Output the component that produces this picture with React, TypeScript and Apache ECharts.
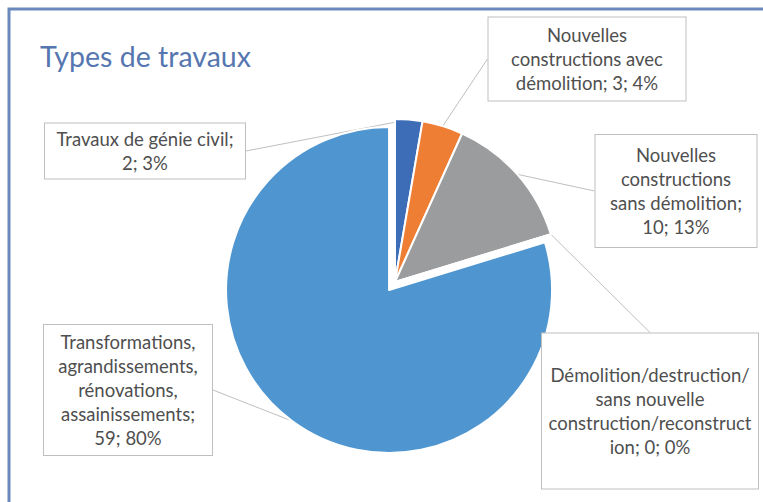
import React, { useEffect, useRef } from 'react';
import * as echarts from 'echarts';

// ---- data ----
const categories = [
  'Travaux de génie civil',
  'Nouvelles constructions avec démolition',
  'Nouvelles constructions sans démolition',
  'Démolition/destruction/ sans nouvelle construction/reconstruction',
  'Transformations, agrandissements, rénovations, assainissements',
];
const values = [2, 3, 10, 0, 59];
// wrapped label names as they appear in the chart
const wrappedNames = [
  'Travaux de génie civil',
  'Nouvelles\nconstructions avec\ndémolition',
  'Nouvelles\nconstructions\nsans démolition',
  'Démolition/destruction/\nsans nouvelle\nconstruction/reconstruct\nion',
  'Transformations,\nagrandissements,\nrénovations,\nassainissements',
];
const valueOnNewLine = [true, false, true, false, true];
const explodedIndex = 4;

// ---- styles / layout ----
const colors = ['#3C6DB6', '#EE7E33', '#9A9C9E', '#FFC000', '#4F96D1'];
const pieCenter: [number, number] = [395, 282];
const pieRadius = 163;
const explodeDistance = 10;
const labelCenters: [number, number][] = [
  [145, 151],
  [587, 59],
  [676, 191],
  [650, 411],
  [128, 390],
];
const labelWidths = [184, 179, 145, 202, 150];
const labelPaddings = [
  [4, 8, 3, 8],
  [5, 9, 6, 9],
  [8, 8, 8, 8],
  [33, 7, 26, 7],
  [5, 9, 5, 9],
];

export default function App() {
  const ref = useRef<HTMLDivElement>(null);
  useEffect(() => {
    if (!ref.current) return;
    const chart = echarts.init(ref.current, undefined, { renderer: 'svg' });

    const total = values.reduce((a, b) => a + b, 0);
    const before = values.slice(0, explodedIndex).reduce((a, b) => a + b, 0);
    const mid = ((before + values[explodedIndex] / 2) / total) * Math.PI * 2;
    const explodedCenter = [
      pieCenter[0] + explodeDistance * Math.sin(mid),
      pieCenter[1] - explodeDistance * Math.cos(mid),
    ];

    const makeData = (visible: (i: number) => boolean) =>
      categories.map((name, i) => {
        const vis = visible(i);
        return {
          name,
          value: values[i],
          itemStyle: vis
            ? { color: colors[i], borderColor: '#ffffff', borderWidth: 2 }
            : { color: 'rgba(0,0,0,0)', borderWidth: 0 },
          label: vis
            ? { show: true, width: labelWidths[i], padding: labelPaddings[i] }
            : { show: false },
          labelLine: { show: vis },
        };
      });

    const labelOpt = {
      show: true,
      position: 'outside',
      fontFamily: 'Lato',
      fontSize: 18.5,
      lineHeight: 24,
      color: '#4F4F4F',
      align: 'center',
      backgroundColor: '#ffffff',
      borderColor: '#BFBFBF',
      borderWidth: 1,
      overflow: 'none',
      formatter: (p: any) => {
        const i = p.dataIndex;
        return (
          wrappedNames[i] +
          ';' +
          (valueOnNewLine[i] ? '\n' : ' ') +
          p.value +
          '; ' +
          p.percent +
          '%'
        );
      },
    };
    const labelLineOpt = {
      show: true,
      length: 0,
      length2: 0,
      smooth: false,
      lineStyle: { color: '#BFBFBF', width: 1 },
    };
    const labelLayout = (params: any) => {
      const i = params.dataIndex;
      return {
        x: labelCenters[i][0],
        y: labelCenters[i][1],
        align: 'center',
        verticalAlign: 'middle',
      };
    };
    const common = {
      type: 'pie',
      radius: pieRadius,
      startAngle: 90,
      clockwise: true,
      avoidLabelOverlap: false,
      percentPrecision: 0,
      selectedMode: false,
      emphasis: { disabled: true },
      label: labelOpt,
      labelLine: labelLineOpt,
      labelLayout,
    };

    chart.setOption({
      animation: false,
      backgroundColor: '#ffffff',
      title: {
        text: 'Types de travaux',
        left: 40,
        top: 41,
        padding: 0,
        textStyle: {
          fontFamily: 'Lato',
          fontSize: 28.5,
          fontWeight: 'normal',
          color: '#5676B0',
        },
      },
      graphic: [
        {
          type: 'rect',
          silent: true,
          shape: { x: 9, y: 9, width: 900, height: 700 },
          style: { fill: 'none', stroke: '#6A87BE', lineWidth: 3 },
        },
      ],
      series: [
        {
          ...common,
          name: 'exploded',
          center: explodedCenter,
          data: makeData((i) => i === explodedIndex),
        },
        {
          ...common,
          name: 'rest',
          center: pieCenter,
          data: makeData((i) => i !== explodedIndex),
        },
      ],
    });
    return () => chart.dispose();
  }, []);
  return (
    <div
      ref={ref}
      style={{ position: 'absolute', left: 0, top: 0, width: 763, height: 502, background: '#fff' }}
    />
  );
}
